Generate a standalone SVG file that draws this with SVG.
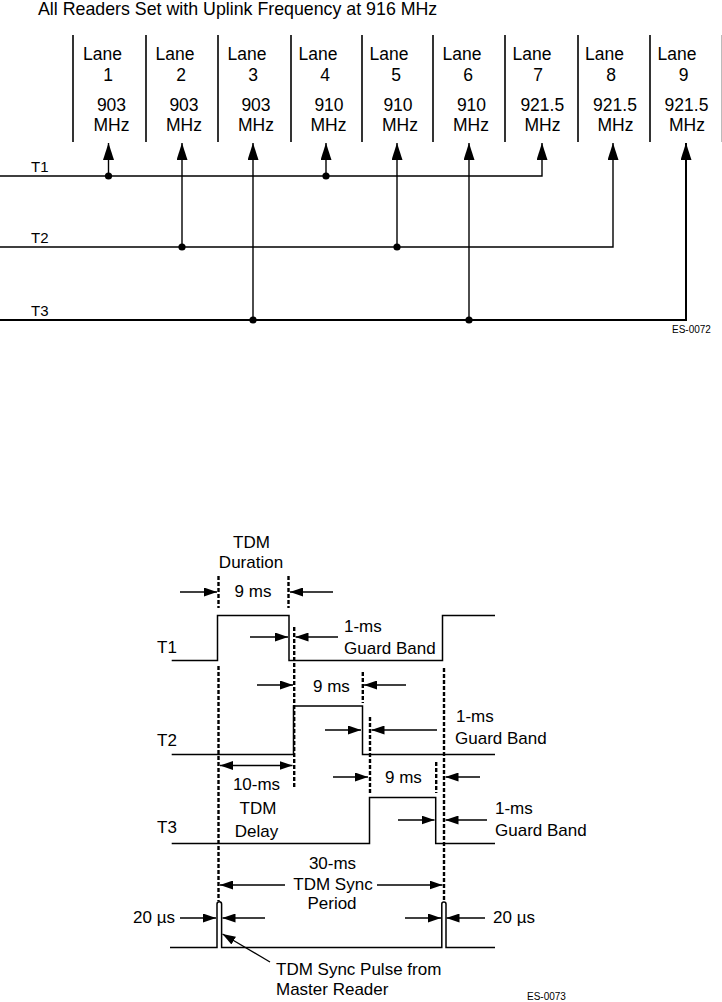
<svg xmlns="http://www.w3.org/2000/svg" width="722" height="1002" viewBox="0 0 722 1002">
<defs>
<style>
text{font-family:"Liberation Sans",Arial,sans-serif;fill:#000}
.t17{font-size:17px}
.lane{font-size:17.5px;text-anchor:middle}
.sm{font-size:15px}
.tiny{font-size:10px}
.mid{text-anchor:middle}
.end{text-anchor:end}
.sep{stroke:#000;stroke-width:1.6}
.w{fill:none;stroke:#000;stroke-width:1.5}
.dash{fill:none;stroke:#000;stroke-width:2.4;stroke-dasharray:4 2}
.ar{fill:none;stroke:#000;stroke-width:1.3;marker-end:url(#ah)}
.ar2{fill:none;stroke:#000;stroke-width:1.3;marker-end:url(#ah);marker-start:url(#ahs)}
.up{fill:none;stroke:#000;stroke-width:1.4;marker-end:url(#big)}
</style>
<marker id="ah" markerWidth="13" markerHeight="9" refX="13" refY="4.5" orient="auto" markerUnits="userSpaceOnUse"><path d="M0,0 L13,4.5 L0,9 z" fill="#000"/></marker>
<marker id="ahs" markerWidth="13" markerHeight="9" refX="0" refY="4.5" orient="auto" markerUnits="userSpaceOnUse"><path d="M13,0 L0,4.5 L13,9 z" fill="#000"/></marker>
<marker id="big" markerWidth="17" markerHeight="11" refX="17" refY="5.5" orient="auto" markerUnits="userSpaceOnUse"><path d="M0,0 L17,5.5 L0,11 z" fill="#000"/></marker>
</defs>
<rect width="722" height="1002" fill="#fff"/>

<text x="38" y="14.5" style="font-size:17.8px">All Readers Set with Uplink Frequency at 916 MHz</text>

<g id="lane1"><line class="sep" x1="73" y1="35" x2="73" y2="142"/><text class="lane" x="102.5" y="60">Lane</text><text class="lane" x="108" y="81">1</text><text class="lane" x="111.5" y="111">903</text><text class="lane" x="111.5" y="130.5">MHz</text></g>
<g id="lane2"><line class="sep" x1="146" y1="35" x2="146" y2="142"/><text class="lane" x="175" y="60">Lane</text><text class="lane" x="181" y="81">2</text><text class="lane" x="184" y="111">903</text><text class="lane" x="184" y="130.5">MHz</text></g>
<g id="lane3"><line class="sep" x1="218" y1="35" x2="218" y2="142"/><text class="lane" x="247" y="60">Lane</text><text class="lane" x="253" y="81">3</text><text class="lane" x="256" y="111">903</text><text class="lane" x="256" y="130.5">MHz</text></g>
<g id="lane4"><line class="sep" x1="291" y1="35" x2="291" y2="142"/><text class="lane" x="318" y="60">Lane</text><text class="lane" x="325" y="81">4</text><text class="lane" x="329" y="111">910</text><text class="lane" x="328.5" y="130.5">MHz</text></g>
<g id="lane5"><line class="sep" x1="362" y1="35" x2="362" y2="142"/><text class="lane" x="389" y="60">Lane</text><text class="lane" x="396" y="81">5</text><text class="lane" x="398" y="111">910</text><text class="lane" x="400" y="130.5">MHz</text></g>
<g id="lane6"><line class="sep" x1="433" y1="35" x2="433" y2="142"/><text class="lane" x="462" y="60">Lane</text><text class="lane" x="468" y="81">6</text><text class="lane" x="471.5" y="111">910</text><text class="lane" x="471" y="130.5">MHz</text></g>
<g id="lane7"><line class="sep" x1="505" y1="35" x2="505" y2="142"/><text class="lane" x="532" y="60">Lane</text><text class="lane" x="538" y="81">7</text><text class="lane" x="542.3" y="111">921.5</text><text class="lane" x="542.5" y="130.5">MHz</text></g>
<g id="lane8"><line class="sep" x1="578" y1="35" x2="578" y2="142"/><text class="lane" x="604.5" y="60">Lane</text><text class="lane" x="611" y="81">8</text><text class="lane" x="615" y="111">921.5</text><text class="lane" x="615.5" y="130.5">MHz</text></g>
<g id="lane9"><line class="sep" x1="650" y1="35" x2="650" y2="142"/><text class="lane" x="677" y="60">Lane</text><text class="lane" x="683.5" y="81">9</text><text class="lane" x="686.5" y="111">921.5</text><text class="lane" x="687" y="130.5">MHz</text></g>
<line x1="721.5" y1="35" x2="721.5" y2="142" stroke="#bbb" stroke-width="1"/>

<g id="buses">
<text class="sm" x="31" y="172">T1</text>
<text class="sm" x="31" y="243">T2</text>
<text class="sm" x="31" y="316">T3</text>
<text class="tiny" x="672" y="333">ES-0072</text>
</g>

<g id="connectors">
<path class="up" d="M0,176 H542 V143"/>
<path class="up" d="M108.5,176 V143"/>
<path class="up" d="M326,176 V143"/>
<path class="up" d="M0,247 H613 V143"/>
<path class="up" d="M182,247 V143"/>
<path class="up" d="M397,247 V143"/>
<path class="up" d="M0,320 H686 V143" style="stroke-width:2"/>
<path class="up" d="M253,320 V143"/>
<path class="up" d="M469,320 V143"/>
<g fill="#000">
<circle cx="108.5" cy="176" r="3.6"/><circle cx="326" cy="176" r="3.6"/>
<circle cx="182" cy="247" r="3.6"/><circle cx="397" cy="247" r="3.6"/>
<circle cx="253" cy="320" r="3.6"/><circle cx="469" cy="320" r="3.6"/>
</g>
</g>

<g id="timing-labels">
<text class="t17" x="157" y="653">T1</text>
<text class="t17" x="157" y="746">T2</text>
<text class="t17" x="157" y="833">T3</text>
<text class="t17 mid" x="251.5" y="548">TDM</text>
<text class="t17 mid" x="251" y="568">Duration</text>
<text class="t17 mid" x="253" y="597">9 ms</text>
<text class="t17" x="344" y="632">1-ms</text>
<text class="t17" x="344" y="654">Guard Band</text>
<text class="t17" x="313" y="692">9 ms</text>
<text class="t17" x="456" y="722">1-ms</text>
<text class="t17" x="455" y="744">Guard Band</text>
<text class="t17 mid" x="256.5" y="790">10-ms</text>
<text class="t17 mid" x="258" y="814">TDM</text>
<text class="t17 mid" x="256.5" y="837">Delay</text>
<text class="t17" x="385" y="783">9 ms</text>
<text class="t17" x="495" y="814">1-ms</text>
<text class="t17" x="495" y="836">Guard Band</text>
<text class="t17 mid" x="332.5" y="869">30-ms</text>
<text class="t17 mid" x="333" y="890">TDM Sync</text>
<text class="t17 mid" x="332" y="909">Period</text>
<text class="t17 end" x="175" y="923">20 µs</text>
<text class="t17" x="493" y="923">20 µs</text>
<text class="t17" x="276" y="975">TDM Sync Pulse from</text>
<text class="t17" x="276" y="995">Master Reader</text>
<text class="tiny" x="527" y="1000">ES-0073</text>
</g>

<g id="waveforms">
<path class="w" d="M171.7,660.5 H217.5 V615.5 H289 V660.5 H442.5 V615.5 H495"/>
<path class="w" d="M171.7,754.5 H293.5 V706 H362.5 V754.5 H495"/>
<path class="w" d="M171.7,843.5 H369.5 V797.5 H435.7 V843.5 H495"/>
<path class="w" d="M170,947.5 H217 V904 A2.3,2.3 0 0 1 221.6,904 V947.5 H441.8 V904 A2.1,2.1 0 0 1 446,904 V947.5 H495"/>
</g>

<g id="dashed">
<line class="dash" x1="218.5" y1="576" x2="218.5" y2="608"/>
<line class="dash" x1="288.5" y1="576" x2="288.5" y2="608"/>
<line class="dash" x1="218.5" y1="666" x2="218.5" y2="901"/>
<line class="dash" x1="294.2" y1="627" x2="294.2" y2="788"/>
<line class="dash" x1="362.8" y1="672" x2="362.8" y2="703"/>
<line class="dash" x1="370" y1="717" x2="370" y2="793"/>
<line class="dash" x1="436.2" y1="762" x2="436.2" y2="793"/>
<line class="dash" x1="444" y1="668" x2="444" y2="901"/>
</g>

<g id="dimension-arrows">
<line class="ar" x1="180" y1="592" x2="217" y2="592"/>
<line class="ar" x1="333" y1="592" x2="290" y2="592"/>
<line class="ar" x1="250" y1="637" x2="288" y2="637"/>
<line class="ar" x1="338" y1="637" x2="295.5" y2="637"/>
<line class="ar" x1="257" y1="685" x2="293" y2="685"/>
<line class="ar" x1="406" y1="685" x2="364" y2="685"/>
<line class="ar" x1="325" y1="730" x2="361" y2="730"/>
<line class="ar" x1="437" y1="730" x2="371.5" y2="730"/>
<line class="ar2" x1="220" y1="765.5" x2="292.5" y2="765.5"/>
<line class="ar" x1="333" y1="777" x2="368" y2="777"/>
<line class="ar" x1="480" y1="777" x2="445.5" y2="777"/>
<line class="ar" x1="398" y1="820" x2="434.5" y2="820"/>
<line class="ar" x1="487" y1="820" x2="445.5" y2="820"/>
<line class="ar" x1="285" y1="885" x2="220" y2="885"/>
<line class="ar" x1="377" y1="885" x2="442.5" y2="885"/>
<line class="ar" x1="180" y1="918" x2="216" y2="918"/>
<line class="ar" x1="265" y1="918" x2="222.5" y2="918"/>
<line class="ar" x1="405" y1="918" x2="441" y2="918"/>
<line class="ar" x1="485" y1="918" x2="446.5" y2="918"/>
<line class="ar" x1="270" y1="962" x2="222.5" y2="934"/>
</g>
</svg>
